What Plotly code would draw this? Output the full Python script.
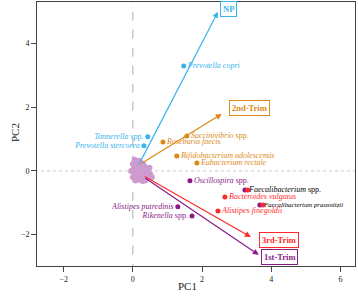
import plotly.graph_objects as go

# ---- data ----
species = ["<i>Prevotella copri</i>", "<i>Tannerella</i> spp.", "<i>Prevotella stercorea</i>",
           "<i>Succinivibrio</i> spp.", "<i>Roseburia faecis</i>", "<i>Bifidobacterium adolescentis</i>",
           "<i>Eubacterium rectale</i>",
           "<i>Oscillospira</i> spp.", "<i>Alistipes putredinis</i>", "<i>Rikenella</i> spp.",
           "<i>Bacteroides vulgatus</i>", "<i>Alistipes finegoldii</i>",
           "<i>Faecalibacterium</i> spp.", "<i>Faecalibacterium prausnitzii</i>"]
sp_x = [1.47, 0.43, 0.32, 1.56, 0.87, 1.27, 1.85, 1.65, 1.30, 1.71, 2.66, 2.46, 3.24, 3.67]
sp_y = [3.30, 1.07, 0.79, 1.10, 0.91, 0.47, 0.25, -0.31, -1.13, -1.42, -0.82, -1.26, -0.60, -1.07]
sp_group = ["NP", "NP", "NP", "2nd", "2nd", "2nd", "2nd", "1st", "1st", "1st", "3rd", "3rd", "1st", "1st"]
sp_side = ["right", "left", "left", "right", "right", "right", "right", "right", "left", "left",
           "right", "right", "right", "right"]
sp_textcol = [None] * 12 + ["black", "black"]
sp_textsize = [8] * 13 + [6.8]

# red duplicate points of Faecalibacterium
red_x = [3.32, 3.76]
red_y = [-0.60, -1.07]

cluster_x = [0.05, 0.12, 0.18, 0.25, 0.30, 0.08, 0.15, 0.22, 0.28, 0.35, 0.02, 0.10, 0.20, 0.30,
             0.40, 0.45, 0.05, 0.15, 0.25, 0.38, 0.50, 0.00, 0.10, 0.20, 0.32, 0.42, 0.08, 0.18,
             0.28, 0.36, 0.12, 0.22, -0.05, 0.48, 0.55, 0.0, 0.15]
cluster_y = [0.35, 0.30, 0.32, 0.25, 0.20, 0.20, 0.15, 0.18, 0.10, 0.12, 0.05, 0.05, 0.02, 0.00,
             0.05, -0.05, -0.08, -0.10, -0.05, -0.12, -0.10, -0.20, -0.20, -0.22, -0.25, -0.20,
             -0.30, -0.28, -0.32, -0.30, 0.10, -0.15, 0.00, 0.10, -0.20, 0.22, 0.28]

groups = ["NP", "2nd", "3rd", "1st"]
group_labels = ["NP", "2nd-Trim", "3rd-Trim", "1st-Trim"]
arrow_start_x = [0.15, 0.20, 0.30, 0.32]
arrow_start_y = [0.15, 0.20, -0.15, -0.20]
arrow_tip_x = [2.46, 2.57, 3.41, 3.64]
arrow_tip_y = [5.00, 1.79, -2.08, -2.64]
label_x = [2.77, 3.37, 4.22, 4.25]
label_y = [5.08, 1.98, -2.17, -2.70]

colors = {"NP": "#38b4ee", "2nd": "#dd8a1a", "3rd": "#ff2a2a", "1st": "#8a1a8a"}

FONT = "Liberation Serif"

fig = go.Figure()

fig.add_trace(go.Scatter(x=cluster_x, y=cluster_y, mode="markers",
                         marker=dict(color="#cd9bd0", size=6, line=dict(width=0)),
                         hoverinfo="skip", showlegend=False))

for side in ["left", "right"]:
    idx = [i for i in range(len(species)) if sp_side[i] == side]
    fig.add_trace(go.Scatter(
        x=[sp_x[i] for i in idx], y=[sp_y[i] for i in idx],
        mode="markers+text",
        text=[species[i] for i in idx],
        textposition="middle left" if side == "left" else "middle right",
        textfont=dict(family=FONT, size=[sp_textsize[i] for i in idx],
                      color=[sp_textcol[i] or colors[sp_group[i]] for i in idx]),
        marker=dict(color=[colors[sp_group[i]] for i in idx], size=5),
        cliponaxis=False,
        showlegend=False))

fig.add_trace(go.Scatter(x=red_x, y=red_y, mode="markers",
                         marker=dict(color=colors["3rd"], size=5), showlegend=False))

for g, lab, sx, sy, tx, ty, lx, ly in zip(groups, group_labels, arrow_start_x, arrow_start_y,
                                          arrow_tip_x, arrow_tip_y, label_x, label_y):
    c = colors[g]
    fig.add_annotation(x=tx, y=ty, ax=sx, ay=sy, xref="x", yref="y", axref="x", ayref="y",
                       text="", showarrow=True, arrowhead=2, arrowsize=1, arrowwidth=1.2,
                       arrowcolor=c)
    fig.add_annotation(x=lx, y=ly, xref="x", yref="y", text="<b>%s</b>" % lab, showarrow=False,
                       font=dict(family=FONT, size=8.5, color=c), bgcolor="white",
                       bordercolor=c, borderwidth=1, borderpad=2)

fig.add_shape(type="line", x0=0, x1=0, y0=-3.2, y1=5.5, xref="x", yref="y",
              line=dict(color="#999999", width=0.8, dash="dash"), layer="below")
fig.add_shape(type="line", x0=-3, x1=6.6, y0=0, y1=0, xref="x", yref="y",
              line=dict(color="#bbbbbb", width=0.8, dash="dot"), layer="below")

axis_common = dict(showgrid=False, zeroline=False, showline=True, linecolor="#444444",
                   linewidth=1, mirror=True, ticks="outside", ticklen=5, tickcolor="#444444",
                   automargin=False,
                   tickfont=dict(family=FONT, size=8, color="#222222"))
fig.update_xaxes(range=[-2.77, 6.42], tickvals=[-2, 0, 2, 4, 6], **axis_common)
fig.update_yaxes(range=[-2.99, 5.31], tickvals=[-2, 0, 2, 4], **axis_common)

fig.add_annotation(x=187, y=294, xref="paper", yref="paper", text="PC1", showarrow=False,
                   font=dict(family=FONT, size=11, color="#222222"))
fig.add_annotation(x=7, y=132, xref="paper", yref="paper", text="PC2", showarrow=False,
                   textangle=-90, font=dict(family=FONT, size=11, color="#222222"))

fig.update_layout(width=358, height=300, margin=dict(l=37, r=3, t=2, b=34),
                  plot_bgcolor="white", paper_bgcolor="white", showlegend=False)

# convert pixel positions of axis titles to paper coords
W_plot = 358 - 37 - 3
H_plot = 300 - 2 - 34
for a in fig.layout.annotations:
    if a.xref == "paper":
        a.x = (a.x - 37) / W_plot
        a.y = (300 - 34 - a.y) / H_plot

fig.write_html("out.html", config={"displayModeBar": False},
               post_script="document.body.style.margin='0';document.body.style.padding='0';"
                           "document.body.style.overflow='hidden';")
